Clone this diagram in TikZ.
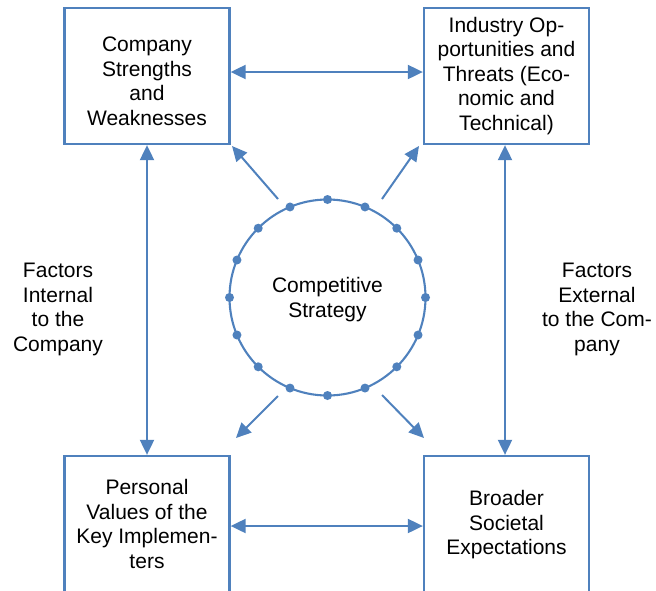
\documentclass[tikz,border=0pt]{standalone}
\usepackage{fontspec}
\setmainfont{Liberation Sans}
\usetikzlibrary{arrows.meta}
\definecolor{sblue}{RGB}{79,129,189}
\begin{document}
\begin{tikzpicture}[x=1pt,y=-1pt,
  txt/.style={align=center, font=\fontsize{21}{24.5}\selectfont},
  box/.style={txt, draw=sblue, line width=2.3pt, minimum width=165pt, minimum height=136pt, inner sep=0pt},
  arr/.style={draw=sblue, line width=2pt, -{Triangle[length=15pt,width=14pt]}},
  darr/.style={draw=sblue, line width=2pt, {Triangle[length=15pt,width=14pt]}-{Triangle[length=15pt,width=14pt]}},
  dotn/.style={circle, fill=sblue, inner sep=0pt, minimum size=9pt}]
\useasboundingbox (0,0) rectangle (656,590);
\node[box] (TL) at (147,76) {\rule{0pt}{25pt}Company\\Strengths\\and\\Weaknesses};
\node[box] (TR) at (506.5,76) {Industry Op-\\portunities and\\Threats (Eco-\\nomic and\\Technical)};
\node[box] (BL) at (147,524) {Personal\\Values of the\\Key Implemen-\\ters};
\node[box] (BR) at (506.5,524) {\rule{0pt}{17pt}Broader\\Societal\\Expectations};
\node[txt] (FI) at (58,309.5) {Factors\\Internal\\to the\\Company};
\node[txt] (FE) at (597,309.5) {Factors\\External\\to the Com-\\pany};
\node[txt, circle, draw=sblue, line width=2.1pt, minimum size=196pt, inner sep=0pt] (C) at (327.5,297.5) {\rule{0pt}{19.5pt}Competitive\\Strategy};
\foreach \a [count=\i] in {0,22.5,...,337.5}
  \node[dotn] (d\i) at ([shift={(\a:98)}]C.center) {};
% horizontal and vertical connectors
\draw[darr] ([yshift=4pt]TL.east) -- ([yshift=4pt]TR.west);
\draw[darr] ([yshift=-2pt]BL.east) -- ([yshift=-2pt]BR.west);
\draw[darr] (TL.south) -- (BL.north);
\draw[darr] ([xshift=-1.5pt]TR.south) -- ([xshift=-1.5pt]BR.north);
% diagonal arrows from the circle
\coordinate (s1) at (278,199); \coordinate (e1) at (232,146);
\coordinate (s2) at (382,199); \coordinate (e2) at (419,146);
\coordinate (s3) at (278,396); \coordinate (e3) at (236,438);
\coordinate (s4) at (382,395); \coordinate (e4) at (424,438);
\draw[arr] (s1) -- (e1);
\draw[arr] (s2) -- (e2);
\draw[arr] (s3) -- (e3);
\draw[arr] (s4) -- (e4);
\end{tikzpicture}
\end{document}
